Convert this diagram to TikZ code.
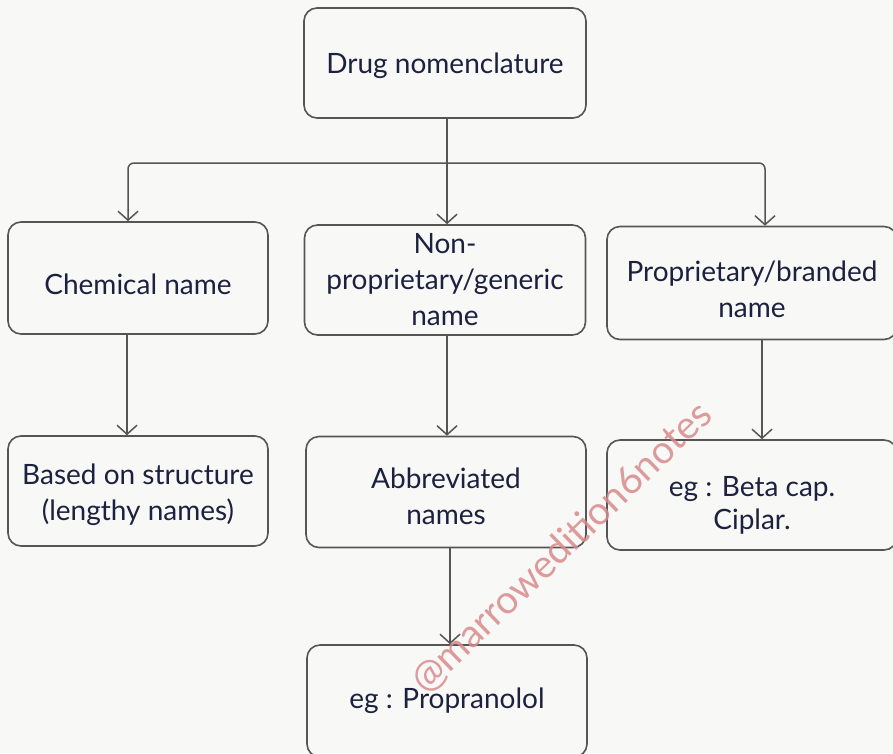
\documentclass[tikz,border=0pt]{standalone}
\usepackage{fontspec}
\setmainfont{Lato}
\usetikzlibrary{arrows.meta}
\definecolor{paper}{HTML}{F8F8F6}
\definecolor{ink}{HTML}{1C2140}
\definecolor{edge}{HTML}{555555}
\definecolor{mark}{HTML}{D98A8C}
\tikzset{
  box/.style={draw=edge, line width=1.6pt, rounded corners=13pt, inner sep=0pt},
  boxtext/.style={text=ink, align=center, inner sep=0pt, font=\fontsize{28}{36}\selectfont},
  link/.style={draw=edge, line width=1.5pt, -{Straight Barb[length=9pt,width=20pt,line width=1.5pt]}},
}
\begin{document}
\begin{tikzpicture}[x=1pt,y=-1pt]
  \fill[paper] (0,0) rectangle (893,753);
  \clip (0,0) rectangle (893,753);

  % top level
  \node[box, minimum width=282pt, minimum height=110pt,
        label={[boxtext, yshift=-3pt]center:Drug nomenclature}] (drug) at (445,63) {};

  % second row
  \node[box, minimum width=260pt, minimum height=112pt,
        label={[boxtext, yshift=-6pt]center:Chemical name}] (chem) at (138,278) {};
  \node[box, minimum width=281pt, minimum height=110pt,
        label={[boxtext]center:Non-\\proprietary/generic\\name}] (gen) at (445,280) {};
  \node[box, minimum width=290pt, minimum height=113pt,
        label={[boxtext, yshift=-6pt]center:Proprietary/branded\\name}] (brand) at (752,283) {};

  % third row
  \node[box, minimum width=260pt, minimum height=110pt,
        label={[boxtext, yshift=-4pt]center:Based on structure\\(lengthy names)}] (struct) at (138,491) {};
  \node[box, minimum width=280pt, minimum height=111pt,
        label={[boxtext, yshift=-4pt]center:Abbreviated\\names}] (abbr) at (446,492) {};
  \node[box, minimum width=290pt, minimum height=110pt,
        label={[boxtext, yshift=-10pt, font=\fontsize{28}{33}\selectfont]center:eg : Beta cap.\\Ciplar.}] (beta) at (752,495) {};

  % bottom
  \node[box, minimum width=280pt, minimum height=112pt,
        label={[boxtext]center:eg : Propranolol}] (prop) at (447,701) {};

  % branching connectors
  \coordinate (hub) at (447,163);
  \draw[draw=edge, line width=1.5pt] (drug.south -| hub) -- (hub);
  \draw[link] (hub) -- (hub |- gen.north);
  \draw[link, rounded corners=6pt] (hub) -| ([xshift=-10pt]chem.north);
  \draw[link, rounded corners=6pt] (hub) -| ([xshift=13pt]brand.north);

  % vertical connectors
  \draw[link] ([xshift=-11pt]chem.south) -- ([xshift=-11pt]struct.north);
  \draw[link] ([xshift=2pt]gen.south) -- ([xshift=1pt]abbr.north);
  \draw[link] ([xshift=10pt]brand.south) -- ([xshift=10pt]beta.north);
  \draw[link] ([xshift=4pt]abbr.south) -- ([xshift=3pt]prop.north);

  % watermark
  \node[text=mark, rotate=44, font=\fontsize{39}{39}\selectfont, opacity=0.85] (wm) at (562,548) {@marrowedition6notes};
\end{tikzpicture}
\end{document}
